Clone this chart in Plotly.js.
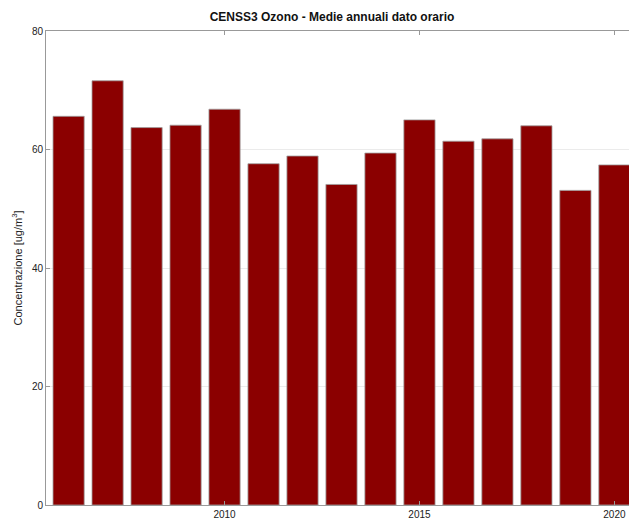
<!DOCTYPE html>
<html>
<head>
<meta charset="utf-8">
<script src="https://cdn.plot.ly/plotly-3.0.1.min.js"></script>
<style>
  html, body { margin: 0; padding: 0; overflow: hidden; background: #fff; }
  #chart { width: 664px; height: 519px; }
</style>
</head>
<body>
<div id="chart"></div>
<script>
// Annual means of hourly ozone readings, station CENSS3
const years = [2006, 2007, 2008, 2009, 2010, 2011, 2012, 2013, 2014, 2015, 2016, 2017, 2018, 2019, 2020];
const ozone = [65.6, 71.6, 63.7, 64.1, 66.8, 57.6, 58.9, 54.1, 59.4, 65.0, 61.4, 61.8, 64.0, 53.1, 57.4];
const xTickVals = [2010, 2015, 2020];
const xTickText = ['2010', '2015', '2020'];
const yTickVals = [0, 20, 40, 60, 80];

const trace = {
  type: 'bar',
  x: years,
  y: ozone,
  width: 0.8,
  marker: { color: '#8b0000', line: { color: '#a0a0a0', width: 0.8 } },
  hoverinfo: 'x+y'
};

const axisFont = { family: 'Liberation Sans, Arial, sans-serif', size: 10, color: '#222' };

const layout = {
  width: 664,
  height: 519,
  margin: { l: 46, r: 27, t: 31, b: 14 },
  paper_bgcolor: '#fff',
  plot_bgcolor: '#fff',
  showlegend: false,
  bargap: 0,
  title: {
    text: '<b>CENSS3 Ozono - Medie annuali dato orario</b>',
    font: { family: 'Liberation Sans, Arial, sans-serif', size: 12, color: '#111' },
    xref: 'container', x: 332 / 664, xanchor: 'center',
    yref: 'container', y: 1 - 17 / 519, yanchor: 'middle'
  },
  xaxis: {
    range: [2005.42, 2020.58],
    tickvals: xTickVals,
    ticktext: xTickText,
    ticks: 'inside',
    ticklen: 4,
    tickcolor: '#999',
    showline: true,
    linecolor: '#999',
    linewidth: 1,
    mirror: 'ticks',
    showgrid: false,
    zeroline: false,
    tickfont: axisFont
  },
  yaxis: {
    range: [0, 80],
    tickvals: yTickVals,
    ticks: 'inside',
    ticklen: 4,
    tickcolor: '#999',
    showline: true,
    linecolor: '#999',
    linewidth: 1,
    mirror: 'ticks',
    showgrid: true,
    gridcolor: '#ebebeb',
    gridwidth: 1,
    zeroline: false,
    tickfont: axisFont,
    title: {
      text: 'Concentrazione [ug/m<sup>3</sup>]',
      font: { family: 'Liberation Sans, Arial, sans-serif', size: 11, color: '#222' },
      standoff: 7
    }
  }
};

Plotly.newPlot('chart', [trace], layout, { displayModeBar: false, staticPlot: true });
</script>
</body>
</html>
